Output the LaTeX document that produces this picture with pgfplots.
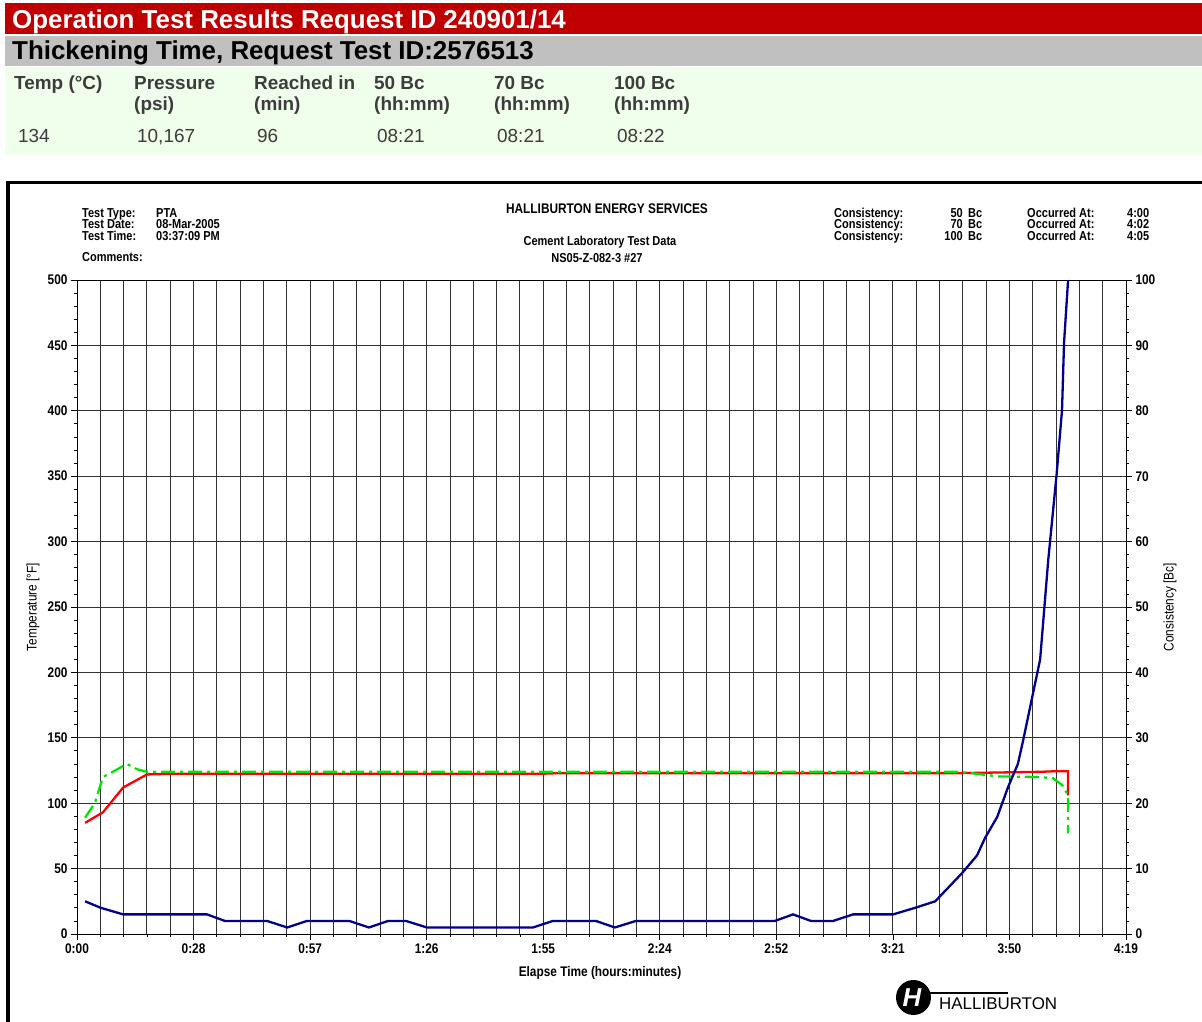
\documentclass[border=0pt]{standalone}
\usepackage{fontspec}
\setmainfont{Liberation Sans}
\newfontfamily\chartfont[FakeStretch=0.85]{Liberation Sans}
\usepackage{pgfplots}
\pgfplotsset{compat=1.18}
\definecolor{hdrred}{RGB}{192,0,0}
\definecolor{hdrgray}{RGB}{192,192,192}
\definecolor{hdrgreen}{RGB}{240,255,235}
\definecolor{navyline}{RGB}{0,0,140}
\definecolor{limeline}{RGB}{0,230,0}
\definecolor{gridc}{RGB}{50,50,50}
\definecolor{hdrtext}{RGB}{60,60,60}
\newcommand{\cfs}{\chartfont\bfseries\fontsize{14}{14}\selectfont}
\newcommand{\cfh}{\chartfont\bfseries\fontsize{13}{13}\selectfont}
\newcommand{\cfr}{\chartfont\fontsize{14}{14}\selectfont}
\newcommand{\hlab}{\bfseries\fontsize{19}{19}\selectfont}
\newcommand{\hval}{\fontsize{19}{19}\selectfont}

\pgfplotstableread{
t temp
2.0 85
6.4 93
11.4 112
17.3 122
23.7 122.5
114.3 122.5
119.3 123
218 123
227.9 123.5
237.8 124
242 124.5
244.7 124.5
244.7 106
}\redtemp

\pgfplotstableread{
t temp
2.0 89
4.4 100
6.4 120
9.4 125
12.3 130
14.8 126
17.3 124
218 124
227.4 120.5
237.8 120
241 119
243.2 114
244.7 106
244.7 77
}\greentemp

\pgfplotstableread{
t bc
2.0 5
5.9 4
11.4 3
32.1 3
36.5 2
46.9 2
51.9 1
56.8 2
67.2 2
72.1 1
76.8 2
81.2 2
86.4 1
112.6 1
117.5 2
128.1 2
132.8 1
138.0 2
172.3 2
176.8 3
181.2 2
186.7 2
191.6 3
201.5 3
206.9 4
211.9 5
218.5 9.3
222.2 12
224.2 14.7
227.2 17.9
229.9 22.5
232.3 26
233.6 29.6
237.8 42
239.8 57.2
241.9 70.5
243.2 80.1
243.7 90.4
244.7 100
}\consist

\begin{document}
\begin{tikzpicture}
\useasboundingbox (0,0) rectangle (1202bp,-1022bp);
\begin{scope}[x=1bp,y=-1bp]
% header bands
\fill[hdrred] (5,3) rectangle (1202,34);
\fill[hdrgray] (5,36) rectangle (1202,66);
\fill[hdrgreen] (5,67) rectangle (1202,155);
\node[anchor=base west, inner sep=0, text=white, font=\bfseries\fontsize{26}{26}\selectfont] at (12,28) {Operation Test Results Request ID 240901/14};
\node[anchor=base west, inner sep=0, text=black, font=\bfseries\fontsize{26}{26}\selectfont] at (12,59) {Thickening Time, Request Test ID:2576513};
% table header
\foreach \xx/\la/\lb in {14/{Temp (°C)}/{}, 134/Pressure/(psi), 254/Reached in/(min), 374/50 Bc/(hh:mm), 494/70 Bc/(hh:mm), 614/100 Bc/(hh:mm)}{
  \node[anchor=base west, inner sep=0, text=hdrtext, font=\hlab] at (\xx,89) {\la};
  \node[anchor=base west, inner sep=0, text=hdrtext, font=\hlab] at (\xx,110) {\lb};
}
\foreach \xx/\va in {18/134, 137/{10,167}, 257/96, 377/08:21, 497/08:21, 617/08:22}{
  \node[anchor=base west, inner sep=0, text=hdrtext, font=\hval] at (\xx,142) {\va};
}
% chart frame
\draw[black, line width=3bp] (8,1022) -- (8,182) -- (1210,182);
% chart info text
\node[anchor=base west, inner sep=0, font=\cfh] at (82,217) {Test Type:};
\node[anchor=base west, inner sep=0, font=\cfh] at (82,228.5) {Test Date:};
\node[anchor=base west, inner sep=0, font=\cfh] at (82,240) {Test Time:};
\node[anchor=base west, inner sep=0, font=\cfh] at (82,261) {Comments:};
\node[anchor=base west, inner sep=0, font=\cfh] at (156,217) {PTA};
\node[anchor=base west, inner sep=0, font=\cfh] at (156,228.5) {08-Mar-2005};
\node[anchor=base west, inner sep=0, font=\cfh] at (156,240) {03:37:09 PM};
\node[anchor=base, inner sep=0, font=\cfs] at (607,213) {HALLIBURTON ENERGY SERVICES};
\node[anchor=base, inner sep=0, font=\cfh] at (600,245) {Cement Laboratory Test Data};
\node[anchor=base, inner sep=0, font=\cfh] at (597,262) {NS05-Z-082-3 \#27};
\foreach \yy/\vv/\tt in {217/50/4:00, 228.5/70/4:02, 240/100/4:05}{
  \node[anchor=base west, inner sep=0, font=\cfh] at (834,\yy) {Consistency:};
  \node[anchor=base east, inner sep=0, font=\cfh] at (963,\yy) {\vv};
  \node[anchor=base west, inner sep=0, font=\cfh] at (968,\yy) {Bc};
  \node[anchor=base west, inner sep=0, font=\cfh] at (1027,\yy) {Occurred At:};
  \node[anchor=base west, inner sep=0, font=\cfh] at (1127,\yy) {\tt};
}
% logo
\fill[black] (913.5,997.5) circle (17.5);
\node[text=white, inner sep=0, font=\bfseries\itshape\fontsize{26}{26}\selectfont] at (912,998) {H};
\draw[black, line width=1.5bp] (928,993) -- (1008,993);
\node[anchor=base west, inner sep=0, font=\fontsize{17}{17}\selectfont] at (939,1009) {HALLIBURTON};
\end{scope}

\begin{axis}[
  at={(77bp,-934bp)}, anchor=south west,
  scale only axis, width=1049bp, height=654bp,
  xmin=0, xmax=259, ymin=0, ymax=500,
  xtick={0,28.7778,57.5556,86.3333,115.1111,143.8889,172.6667,201.4444,230.2222,259},
  xticklabels={0:00,0:28,0:57,1:26,1:55,2:24,2:52,3:21,3:50,4:19},
  minor xtick={5.7556,11.5111,17.2667,23.0222,34.5333,40.2889,46.0444,51.8,63.3111,69.0667,74.8222,80.5778,92.0889,97.8444,103.6,109.3556,120.8667,126.6222,132.3778,138.1333,149.6444,155.4,161.1556,166.9111,178.4222,184.1778,189.9333,195.6889,207.2,212.9556,218.7111,224.4667,235.9778,241.7333,247.4889,253.2444},
  ytick={0,50,...,500},
  minor ytick={10,20,30,40,60,70,80,90,110,120,130,140,160,170,180,190,210,220,230,240,260,270,280,290,310,320,330,340,360,370,380,390,410,420,430,440,460,470,480,490},
  xmajorgrids=true, xminorgrids=true, ymajorgrids=true, yminorgrids=false,
  major grid style={gridc, line width=0.9bp},
  minor grid style={gridc, line width=0.9bp},
  axis line style={black, line width=1bp},
  xtick pos=left, ytick pos=left,
  tick align=outside,
  major tick length=6bp, minor tick length=3bp,
  tick style={black, line width=0.8bp},
  ticklabel style={font=\cfs},
  /pgf/number format/assume math mode=true,
  xlabel={Elapse Time (hours:minutes)},
  xlabel style={font=\cfs, at={(axis description cs:0.4986,-0.0596)}, anchor=center},
  ylabel={Temperature [°F]},
  ylabel style={font=\cfr, at={(axis description cs:-0.042,0.5)}, anchor=center},
]
\addplot[red, line width=2.3bp] table[x=t, y=temp] {\redtemp};
\addplot[limeline, line width=2.3bp, dash pattern=on 14bp off 5bp on 3bp off 5bp] table[x=t, y=temp] {\greentemp};
\end{axis}

\begin{axis}[
  at={(77bp,-934bp)}, anchor=south west,
  scale only axis, width=1049bp, height=654bp,
  xmin=0, xmax=259, ymin=0, ymax=100,
  axis x line=none, axis y line*=right,
  ytick={0,10,...,100},
  minor ytick={2,4,6,8,12,14,16,18,22,24,26,28,32,34,36,38,42,44,46,48,52,54,56,58,62,64,66,68,72,74,76,78,82,84,86,88,92,94,96,98},
  axis line style={black, line width=1bp},
  tick align=outside,
  major tick length=6bp, minor tick length=3bp,
  tick style={black, line width=0.8bp},
  ticklabel style={font=\cfs},
  /pgf/number format/assume math mode=true,
  ylabel={Consistency [Bc]},
  ylabel style={font=\cfr, at={(axis description cs:1.042,0.5)}, anchor=center},
]
\addplot[navyline, line width=2.3bp] table[x=t, y=bc] {\consist};
\end{axis}
\end{tikzpicture}
\end{document}
